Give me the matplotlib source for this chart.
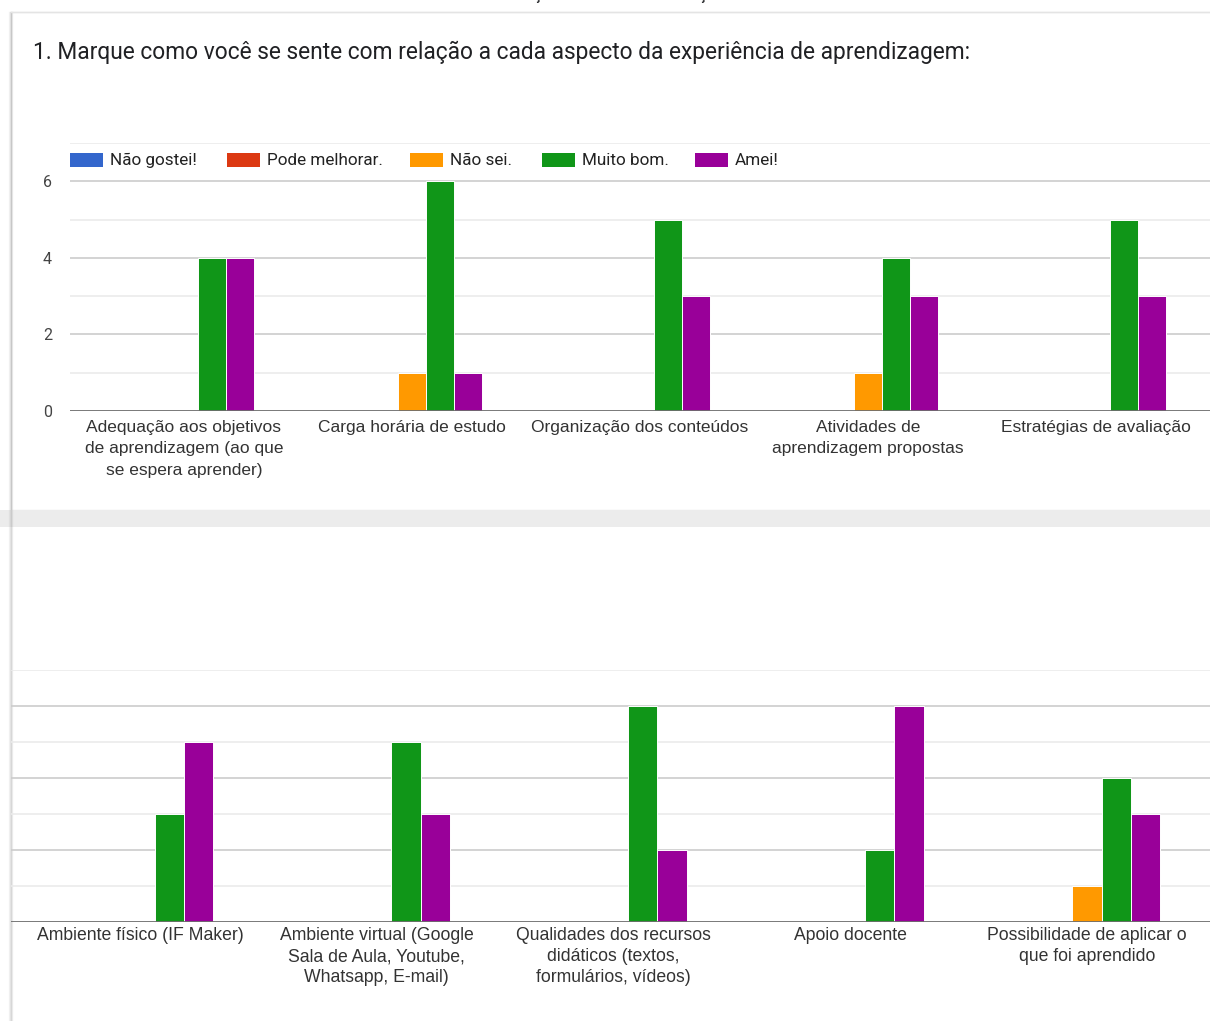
import matplotlib
matplotlib.use("Agg")
import matplotlib.pyplot as plt
from matplotlib.patches import Rectangle
from matplotlib.lines import Line2D
import numpy as np

# ---- data -------------------------------------------------------------
series_names = ["Não gostei!", "Pode melhorar.", "Não sei.", "Muito bom.", "Amei!"]
series_colors = ["#3366cc", "#dc3912", "#ff9900", "#109618", "#990099"]

categories_top = [
    "Adequação aos objetivos\nde aprendizagem (ao que\nse espera aprender)",
    "Carga horária de estudo",
    "Organização dos conteúdos",
    "Atividades de\naprendizagem propostas",
    "Estratégias de avaliação",
]
nao_gostei_top = [0, 0, 0, 0, 0]
pode_melhorar_top = [0, 0, 0, 0, 0]
nao_sei_top = [0, 1, 0, 1, 0]
muito_bom_top = [4, 6, 5, 4, 5]
amei_top = [4, 1, 3, 3, 3]

categories_bottom = [
    "Ambiente físico (IF Maker)",
    "Ambiente virtual (Google\nSala de Aula, Youtube,\nWhatsapp, E-mail)",
    "Qualidades dos recursos\ndidáticos (textos,\nformulários, vídeos)",
    "Apoio docente",
    "Possibilidade de aplicar o\nque foi aprendido",
]
nao_gostei_bottom = [0, 0, 0, 0, 0]
pode_melhorar_bottom = [0, 0, 0, 0, 0]
nao_sei_bottom = [0, 0, 0, 0, 1]
muito_bom_bottom = [3, 5, 6, 2, 4]
amei_bottom = [5, 3, 2, 6, 3]

y_ticks_top = [0, 2, 4, 6]

title_text = "1. Marque como você se sente com relação a cada aspecto da experiência de aprendizagem:"

# ---- figure -----------------------------------------------------------
W, H = 1210, 1021
fig = plt.figure(figsize=(W / 100, H / 100), dpi=100)
fig.patch.set_facecolor("white")


def px_rect(x0, y0, x1, y1):
    """Figure-fraction rect from pixel box (origin top-left)."""
    return [x0 / W, 1 - y1 / H, (x1 - x0) / W, (y1 - y0) / H]


def fig_rect(x0, y0, x1, y1, **kw):
    fig.patches.append(Rectangle((x0 / W, 1 - y1 / H), (x1 - x0) / W, (y1 - y0) / H,
                                 transform=fig.transFigure, figure=fig, **kw))


# card backgrounds, separator band and soft left shadow (kept behind the axes)
fig_rect(11, 12, 1215, 510, facecolor="white", edgecolor="#e6e6e6", linewidth=1.0, zorder=-3)
fig_rect(0, 510, 1215, 527, facecolor="#ececec", edgecolor="none", zorder=-2)
for dx, a in [(-2, 0.10), (-1, 0.20), (0, 0.35), (1, 0.15)]:
    fig.add_artist(Line2D([(11 + dx) / W] * 2, [1 - 12 / H, 0], transform=fig.transFigure,
                          color="#9a9a9a", alpha=a, linewidth=1.0, zorder=-1))
fig.add_artist(Line2D([11 / W, 1], [1 - 12 / H] * 2, transform=fig.transFigure,
                      color="#e4e4e4", linewidth=1.0, zorder=-1))

# tail of the previous line of the page, cut off at the top edge
for xc in (537, 702):
    fig.text(xc / W, 1 + 1.5 / H, "ç", ha="center", va="baseline", fontsize=13,
             family="Roboto", color="#202124")

# question title
fig.text(33 / W, 1 - 52 / H, title_text, ha="left", va="center", fontsize=16.4,
         family="Roboto", color="#202124")

# legend
legend_items = [(70, series_names[0]), (227, series_names[1]), (410, series_names[2]),
                (542, series_names[3]), (695, series_names[4])]
for (x, name), col in zip(legend_items, series_colors):
    fig_rect(x, 153, x + 33, 167, facecolor=col, edgecolor="none", zorder=3)
    fig.text((x + 40) / W, 1 - 160 / H, name, ha="left", va="center", fontsize=12.3,
             family="Roboto", color="#222222")

group_width = 0.618
bar_w = group_width / 5


def draw_chart(ax, cats, series, xlim, label_pad, label_size, linespacing, show_yticks):
    x = np.arange(len(cats))
    for i, (vals, col) in enumerate(zip(series, series_colors)):
        vals = np.asarray(vals)
        mask = vals > 0
        off = (i - 2) * bar_w
        ax.bar(x[mask] + off, vals[mask], width=bar_w, color=col,
               edgecolor="white", linewidth=0.7, zorder=3)
    ax.set_xlim(*xlim)
    ax.set_ylim(0, 7)
    for v in range(1, 8):
        ax.axhline(v, color="#cccccc" if v % 2 == 0 else "#ebebeb",
                   linewidth=1.2, zorder=1)
    ax.axhline(0, color="#6e6e6e", linewidth=1.3, zorder=4)
    for s in ax.spines.values():
        s.set_visible(False)
    ax.set_xticks(x)
    ax.set_xticklabels(cats, family="Liberation Sans", fontsize=label_size,
                       color="#333333", linespacing=linespacing)
    ax.tick_params(axis="x", length=0, pad=label_pad)
    if show_yticks:
        ax.set_yticks(y_ticks_top)
        ax.set_yticklabels([str(t) for t in y_ticks_top], family="Roboto",
                           fontsize=11.5, color="#444444")
        ax.tick_params(axis="y", length=0, pad=13)
    else:
        ax.set_yticks([])
    ax.set_facecolor("none")


ax_top = fig.add_axes(px_rect(70, 143, 1210, 411))
draw_chart(ax_top, categories_top,
           [nao_gostei_top, pode_melhorar_top, nao_sei_top, muito_bom_top, amei_top],
           (-0.5, 4.5), 6.5, 12.5, 1.52, True)

ax_bot = fig.add_axes(px_rect(11, 670, 1210, 921.5))
draw_chart(ax_bot, categories_bottom,
           [nao_gostei_bottom, pode_melhorar_bottom, nao_sei_bottom, muito_bom_bottom, amei_bottom],
           (-0.545, 4.519), 4, 12.7, 1.32, False)

fig.savefig("out.png", dpi=100, facecolor="white")
